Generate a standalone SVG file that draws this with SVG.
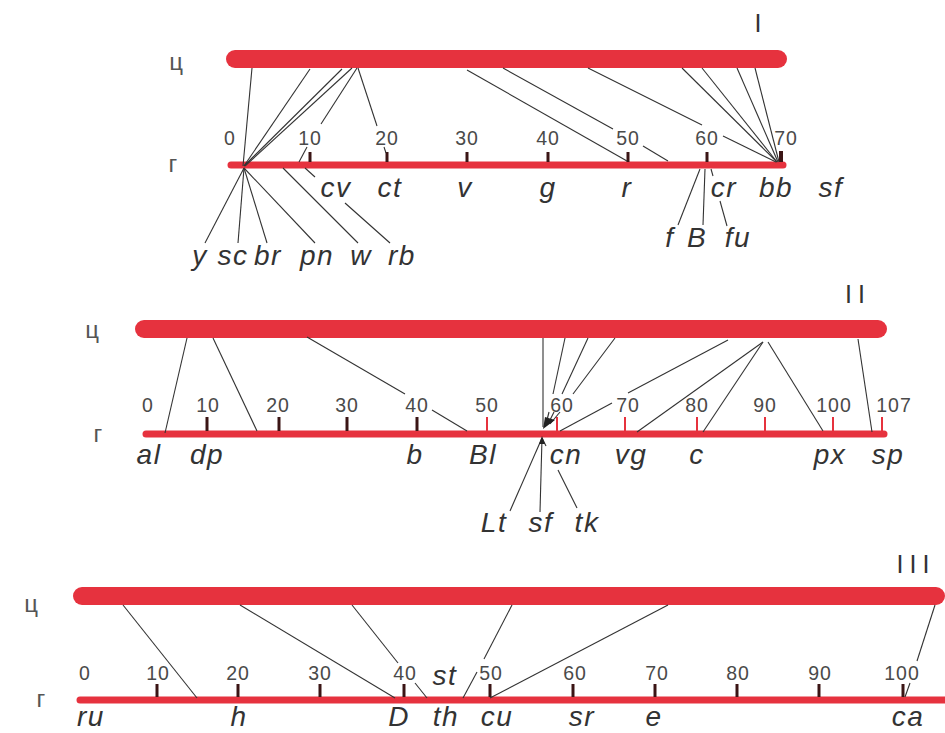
<svg xmlns="http://www.w3.org/2000/svg" width="945" height="733" viewBox="0 0 945 733">
<style>
.cyto{stroke:#e6323e;stroke-width:18;stroke-linecap:round;fill:none}
.gen{stroke:#e6323e;stroke-width:7;stroke-linecap:round;fill:none}
.tk{stroke:#3b1515;stroke-width:3}
.tr{stroke:#e6323e;stroke-width:2}
.num{font-family:"Liberation Sans",Arial,sans-serif;font-size:19.5px;fill:#4a4a4a;text-anchor:middle;letter-spacing:1px}
.gene{font-family:"Liberation Sans",Arial,sans-serif;font-size:28px;font-style:italic;fill:#333;text-anchor:middle;letter-spacing:1.5px}
.cyr{font-family:"Liberation Sans",Arial,sans-serif;font-size:24px;fill:#555;text-anchor:middle}
.roman{font-family:"Liberation Sans",Arial,sans-serif;font-size:25px;fill:#333;text-anchor:middle;letter-spacing:6px}
#connectors line{stroke:#333;stroke-width:1.1}
</style>
<rect width="945" height="733" fill="#fff"/>

<!-- Panel I -->
<g id="panel-I-labels">
<text class="roman" x="761" y="32">I</text>
<text class="cyr" x="176" y="70">ц</text>
<text class="cyr" x="173" y="172">г</text>
</g>
<g id="chrI-cyto"><line class="cyto" x1="235" y1="59" x2="778" y2="59"/></g>
<g id="chrI-gen">
<line class="gen" x1="231" y1="165" x2="783" y2="165"/>
<line class="tk" x1="310" y1="152" x2="310" y2="162"/>
<line class="tk" x1="387" y1="152" x2="387" y2="162"/>
<line class="tk" x1="467" y1="152" x2="467" y2="162"/>
<line class="tk" x1="548" y1="152" x2="548" y2="162"/>
<line class="tk" x1="628" y1="152" x2="628" y2="162"/>
<line class="tk" x1="707" y1="152" x2="707" y2="162"/>
<line class="tk" x1="781" y1="151" x2="781" y2="162" style="stroke-width:4"/>
<text class="num" x="230" y="145">0</text>
<text class="num" x="310" y="145">10</text>
<text class="num" x="387" y="145">20</text>
<text class="num" x="467" y="145">30</text>
<text class="num" x="548" y="145">40</text>
<text class="num" x="628" y="145">50</text>
<text class="num" x="707" y="145">60</text>
<text class="num" x="786" y="145">70</text>
</g>
<g id="genes-I">
<text class="gene" x="336" y="197">cv</text>
<text class="gene" x="390" y="197">ct</text>
<text class="gene" x="465" y="197">v</text>
<text class="gene" x="548" y="197">g</text>
<text class="gene" x="627" y="197">r</text>
<text class="gene" x="724" y="197">cr</text>
<text class="gene" x="776" y="197">bb</text>
<text class="gene" x="831" y="197">sf</text>
<text class="gene" x="670" y="247">f</text>
<text class="gene" x="697" y="247">B</text>
<text class="gene" x="738" y="247">fu</text>
<text class="gene" x="200" y="265">y</text>
<text class="gene" x="233" y="265">sc</text>
<text class="gene" x="268" y="265">br</text>
<text class="gene" x="317" y="265">pn</text>
<text class="gene" x="361" y="265">w</text>
<text class="gene" x="402" y="265">rb</text>
</g>

<!-- Panel II -->
<g id="panel-II-labels">
<text class="roman" x="858" y="303">II</text>
<text class="cyr" x="92" y="338">ц</text>
<text class="cyr" x="98" y="442">г</text>
</g>
<g id="chrII-cyto"><line class="cyto" x1="144" y1="329" x2="878" y2="329"/></g>
<g id="chrII-gen">
<line class="gen" x1="146" y1="434" x2="884" y2="434"/>
<line class="tk" x1="207" y1="417" x2="207" y2="431"/>
<line class="tk" x1="279" y1="417" x2="279" y2="431"/>
<line class="tk" x1="347" y1="417" x2="347" y2="431"/>
<line class="tk" x1="417" y1="417" x2="417" y2="431"/>
<line class="tr" x1="487" y1="417" x2="487" y2="431"/>
<line class="tr" x1="557" y1="417" x2="557" y2="431"/>
<line class="tr" x1="625" y1="417" x2="625" y2="431"/>
<line class="tr" x1="697" y1="417" x2="697" y2="431"/>
<line class="tr" x1="765" y1="417" x2="765" y2="431"/>
<line class="tr" x1="833" y1="417" x2="833" y2="431"/>
<line class="tr" x1="882" y1="417" x2="882" y2="431"/>
<text class="num" x="148" y="412">0</text>
<text class="num" x="208" y="412">10</text>
<text class="num" x="278" y="412">20</text>
<text class="num" x="347" y="412">30</text>
<text class="num" x="417" y="412">40</text>
<text class="num" x="487" y="412">50</text>
<text class="num" x="562" y="412">60</text>
<text class="num" x="628" y="412">70</text>
<text class="num" x="697" y="412">80</text>
<text class="num" x="765" y="412">90</text>
<text class="num" x="834" y="412">100</text>
<text class="num" x="894" y="412">107</text>
</g>
<g id="genes-II">
<text class="gene" x="149" y="464">al</text>
<text class="gene" x="207" y="464">dp</text>
<text class="gene" x="415" y="464">b</text>
<text class="gene" x="483" y="464">Bl</text>
<text class="gene" x="566" y="464">cn</text>
<text class="gene" x="631" y="464">vg</text>
<text class="gene" x="697" y="464">c</text>
<text class="gene" x="830" y="464">px</text>
<text class="gene" x="888" y="464">sp</text>
<text class="gene" x="494" y="532">Lt</text>
<text class="gene" x="541" y="532">sf</text>
<text class="gene" x="587" y="532">tk</text>
</g>

<!-- Panel III -->
<g id="panel-III-labels">
<text class="roman" x="916" y="573">III</text>
<text class="cyr" x="31" y="612">ц</text>
<text class="cyr" x="41" y="707">г</text>
</g>
<g id="chrIII-cyto"><line class="cyto" x1="82" y1="596" x2="936" y2="596"/></g>
<g id="chrIII-gen">
<line class="gen" x1="80" y1="700" x2="950" y2="700"/>
<line class="tk" x1="157" y1="684" x2="157" y2="697"/>
<line class="tk" x1="238" y1="684" x2="238" y2="697"/>
<line class="tk" x1="320" y1="684" x2="320" y2="697"/>
<line class="tk" x1="404" y1="684" x2="404" y2="697"/>
<line class="tk" x1="490" y1="684" x2="490" y2="697"/>
<line class="tk" x1="573" y1="684" x2="573" y2="697"/>
<line class="tk" x1="655" y1="684" x2="655" y2="697"/>
<line class="tk" x1="737" y1="684" x2="737" y2="697"/>
<line class="tk" x1="819" y1="684" x2="819" y2="697"/>
<line class="tk" x1="903" y1="684" x2="903" y2="697"/>
<text class="num" x="85" y="680">0</text>
<text class="num" x="158" y="680">10</text>
<text class="num" x="238" y="680">20</text>
<text class="num" x="320" y="680">30</text>
<text class="num" x="405" y="680">40</text>
<text class="num" x="491" y="680">50</text>
<text class="num" x="575" y="680">60</text>
<text class="num" x="657" y="680">70</text>
<text class="num" x="738" y="680">80</text>
<text class="num" x="820" y="680">90</text>
<text class="num" x="902" y="680">100</text>
</g>
<g id="genes-III">
<text class="gene" x="445" y="685">st</text>
<text class="gene" x="91" y="726">ru</text>
<text class="gene" x="239" y="726">h</text>
<text class="gene" x="399" y="726">D</text>
<text class="gene" x="446" y="726">th</text>
<text class="gene" x="497" y="726">cu</text>
<text class="gene" x="582" y="726">sr</text>
<text class="gene" x="654" y="726">e</text>
<text class="gene" x="908" y="726">ca</text>
</g>

<g id="connectors">
<!-- I: top to genetic -->
<line x1="252" y1="68" x2="243" y2="166"/>
<line x1="310" y1="69" x2="244" y2="166"/>
<line x1="342" y1="69" x2="244" y2="166"/>
<line x1="352" y1="68" x2="245" y2="166"/>
<line x1="357" y1="68" x2="321" y2="124"/>
<line x1="307" y1="147" x2="299" y2="162"/>
<line x1="358" y1="68" x2="377" y2="126"/>
<line x1="384" y1="147" x2="386" y2="153"/>
<line x1="467" y1="70" x2="627" y2="161"/>
<line x1="503" y1="68" x2="613" y2="129"/>
<line x1="643" y1="146" x2="668" y2="161"/>
<line x1="588" y1="68" x2="702" y2="125"/>
<line x1="723" y1="136" x2="776" y2="162"/>
<line x1="682" y1="68" x2="777" y2="162"/>
<line x1="702" y1="68" x2="777" y2="162"/>
<line x1="737" y1="68" x2="778" y2="162"/>
<line x1="755" y1="68" x2="779" y2="162"/>
<!-- I: genetic to labels -->
<line x1="244" y1="168" x2="205" y2="243"/>
<line x1="244" y1="168" x2="238" y2="243"/>
<line x1="244" y1="168" x2="267" y2="243"/>
<line x1="244" y1="168" x2="315" y2="243"/>
<line x1="283" y1="168" x2="358" y2="243"/>
<line x1="305" y1="168" x2="315" y2="177"/>
<line x1="345" y1="203" x2="390" y2="243"/>
<line x1="700" y1="169" x2="678" y2="225"/>
<line x1="705" y1="169" x2="703" y2="225"/>
<line x1="711" y1="169" x2="713" y2="176"/>
<line x1="720" y1="201" x2="727" y2="226"/>
<!-- II -->
<line x1="187" y1="338" x2="165" y2="433"/>
<line x1="213" y1="338" x2="257" y2="431"/>
<line x1="307" y1="337" x2="405" y2="394"/>
<line x1="432" y1="410" x2="467" y2="431"/>
<line x1="543" y1="338" x2="543" y2="427"/>
<line x1="565" y1="338" x2="553" y2="394"/>
<line x1="549" y1="412" x2="546" y2="424"/>
<line x1="588" y1="338" x2="562" y2="394"/>
<line x1="554" y1="412" x2="548" y2="424"/>
<line x1="615" y1="338" x2="573" y2="394"/>
<line x1="560" y1="412" x2="550" y2="424"/>
<line x1="728" y1="340" x2="628" y2="393"/>
<line x1="612" y1="403" x2="560" y2="431"/>
<line x1="763" y1="342" x2="637" y2="432"/>
<line x1="763" y1="342" x2="703" y2="432"/>
<line x1="768" y1="342" x2="823" y2="431"/>
<line x1="858" y1="339" x2="872" y2="432"/>
<line x1="542" y1="438" x2="510" y2="511"/>
<line x1="542" y1="438" x2="540" y2="512"/>
<line x1="542" y1="438" x2="546" y2="446"/>
<line x1="558" y1="470" x2="577" y2="508"/>
<!-- III -->
<line x1="123" y1="605" x2="197" y2="698"/>
<line x1="240" y1="605" x2="395" y2="698"/>
<line x1="352" y1="605" x2="398" y2="663"/>
<line x1="415" y1="683" x2="427" y2="698"/>
<line x1="512" y1="605" x2="484" y2="659"/>
<line x1="477" y1="672" x2="463" y2="698"/>
<line x1="668" y1="605" x2="490" y2="698"/>
<line x1="935" y1="605" x2="917" y2="661"/>
<line x1="910" y1="683" x2="905" y2="697"/>
<polygon points="543,429 545,417 555,420" fill="#222"/>
<polygon points="542,436 539,444 545,444" fill="#222"/>
</g>
</svg>
